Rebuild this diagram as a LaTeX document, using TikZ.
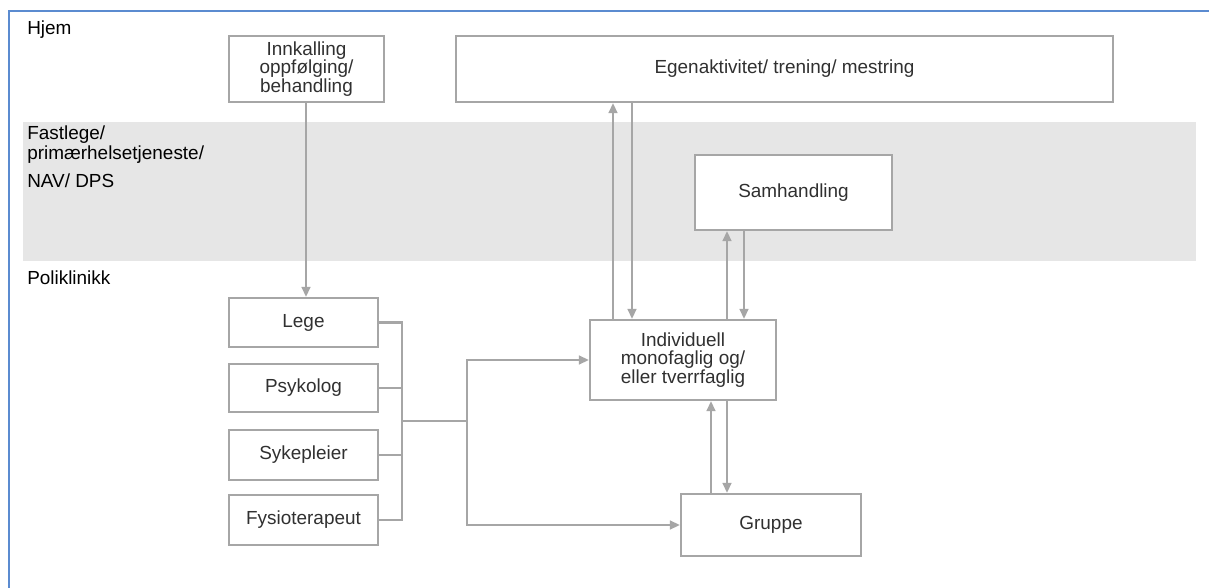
\documentclass[tikz,border=0pt]{standalone}
\usepackage{fontspec}
\setmainfont{Liberation Sans}
\usetikzlibrary{arrows.meta}
\definecolor{frameblue}{HTML}{5B8BD0}
\definecolor{band}{HTML}{E6E6E6}
\definecolor{boxgray}{HTML}{A6A6A6}
\definecolor{txt}{HTML}{303030}
\tikzset{
  box/.style={draw=boxgray, line width=1.6pt, fill=white, text=txt, align=center, font=\fontsize{14.2}{13.9}\selectfont, inner sep=2pt},
  wh/.style 2 args={minimum width=#1*0.75pt, minimum height=#2*0.75pt},
  conn/.style={draw=boxgray, line width=1.6pt},
  arr/.style={conn, -{Triangle[length=7.5pt,width=6.5pt]}},
  side/.style={anchor=base west, font=\fontsize{14.2}{15}\selectfont, text=black, inner sep=0pt},
}
\begin{document}
\begin{tikzpicture}[x=0.75pt, y=-0.75pt]
\useasboundingbox (0,0) rectangle (1209,588);
\fill[white] (0,0) rectangle (1209,588);
% frame
\draw[frameblue, line width=1.6pt] (9,588) -- (9,11) -- (1209,11);
% band
\fill[band] (23,122) rectangle (1196,261);
% side labels
\node[side] (hjem) at (27,35) {Hjem};
\node[side] (fast1) at (27,140) {Fastlege/};
\node[side] (fast2) at (27,160) {primærhelsetjeneste/};
\node[side] (fast3) at (27,187) {NAV/ DPS};
\node[side] (poli) at (27,284) {Poliklinikk};
% boxes
\node[box, wh={155}{66}] (inn) at (306.5,69) {Innkalling\\oppfølging/\\behandling};
\node[box, wh={657}{66}] (egen) at (784.5,69) {Egenaktivitet/ trening/ mestring};
\node[box, wh={197}{75}] (sam) at (793.5,192.5) {Samhandling};
\node[box, wh={149}{49}] (lege) at (303.5,322.5) {Lege};
\node[box, wh={149}{48}] (psyk) at (303.5,388) {Psykolog};
\node[box, wh={149}{50}] (syk) at (303.5,455) {Sykepleier};
\node[box, wh={149}{50}] (fys) at (303.5,520) {Fysioterapeut};
\node[box, wh={186}{80}] (ind) at (683,360) {Individuell\\monofaglig og/\\eller tverrfaglig};
\node[box, wh={180}{62}] (grp) at (771,525) {Gruppe};
% Innkalling -> Lege
\draw[arr] (inn.south -| 306,0) -- (lege.north -| 306,0);
% bracket
\coordinate (j) at (467,421);
\draw[conn] (lege.east) -- (lege.east -| 402,0) -- (fys.east -| 402,0) -- (fys.east);
\draw[conn] (psyk.east) -- (psyk.east -| 402,0);
\draw[conn] (syk.east) -- (syk.east -| 402,0);
\draw[conn] (402,421) -- (j);
\draw[arr] (j) |- (ind.west);
\draw[arr] (j) |- (grp.west);
% Individuell <-> Egenaktivitet
\draw[arr] (ind.north -| 613,0) -- (egen.south -| 613,0);
\draw[arr] (egen.south -| 632,0) -- (ind.north -| 632,0);
% Individuell <-> Samhandling
\draw[arr] (ind.north -| 727,0) -- (sam.south -| 727,0);
\draw[arr] (sam.south -| 744,0) -- (ind.north -| 744,0);
% Gruppe <-> Individuell
\draw[arr] (grp.north -| 711,0) -- (ind.south -| 711,0);
\draw[arr] (ind.south -| 727,0) -- (grp.north -| 727,0);
\end{tikzpicture}
\end{document}
